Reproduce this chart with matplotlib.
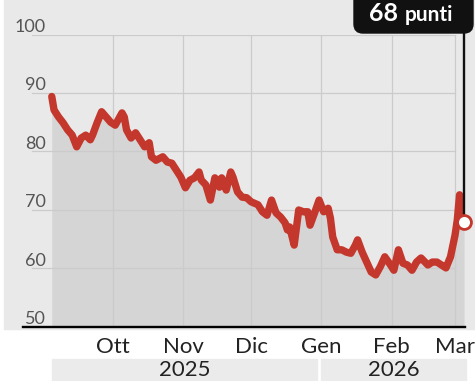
import matplotlib
matplotlib.use("Agg")
import matplotlib.pyplot as plt
import matplotlib.dates as mdates
import matplotlib.transforms as mtransforms
from matplotlib.patches import Rectangle, FancyBboxPatch
import pandas as pd

# valori
dates = [
    "2025-09-04", "2025-09-05", "2025-09-07", "2025-09-09", "2025-09-11", "2025-09-13",
    "2025-09-15", "2025-09-17", "2025-09-19", "2025-09-21", "2025-09-22", "2025-09-24",
    "2025-09-26", "2025-09-28", "2025-09-30", "2025-10-02", "2025-10-05", "2025-10-06",
    "2025-10-07", "2025-10-09", "2025-10-11", "2025-10-13", "2025-10-15", "2025-10-17",
    "2025-10-18", "2025-10-20", "2025-10-23", "2025-10-25", "2025-10-27", "2025-10-29",
    "2025-10-31", "2025-11-02", "2025-11-04", "2025-11-06", "2025-11-08", "2025-11-09",
    "2025-11-11", "2025-11-13", "2025-11-15", "2025-11-17", "2025-11-18", "2025-11-20",
    "2025-11-22", "2025-11-23", "2025-11-25", "2025-11-27", "2025-11-29", "2025-12-01",
    "2025-12-04", "2025-12-06", "2025-12-08", "2025-12-10", "2025-12-12", "2025-12-14",
    "2025-12-16", "2025-12-17", "2025-12-18", "2025-12-20", "2025-12-22", "2025-12-24",
    "2025-12-26", "2025-12-27", "2025-12-29", "2025-12-31", "2026-01-02", "2026-01-04",
    "2026-01-05", "2026-01-06", "2026-01-08", "2026-01-10", "2026-01-12", "2026-01-14",
    "2026-01-16", "2026-01-17", "2026-01-19", "2026-01-21", "2026-01-23", "2026-01-25",
    "2026-01-27", "2026-01-29", "2026-01-31", "2026-02-02", "2026-02-04", "2026-02-06",
    "2026-02-08", "2026-02-10", "2026-02-12", "2026-02-14", "2026-02-17", "2026-02-19",
    "2026-02-21", "2026-02-23", "2026-02-25", "2026-02-27", "2026-03-01", "2026-03-02",
    "2026-03-03", "2026-03-04", "2026-03-05",
]
values = [
    89.4, 87.1, 85.9, 84.9, 83.7, 82.8,
    80.8, 82.3, 82.8, 82.0, 82.8, 84.9,
    86.8, 85.9, 85.0, 84.5, 86.6, 85.9,
    83.7, 82.3, 83.2, 82.0, 80.8, 81.5,
    79.1, 78.5, 79.1, 78.2, 78.0, 76.8,
    75.6, 73.8, 75.1, 75.5, 76.5, 75.1,
    74.3, 71.7, 75.5, 73.9, 75.5, 73.4,
    76.5, 75.6, 73.1, 72.2, 72.1, 71.4,
    70.9, 69.7, 69.1, 71.7, 69.5, 68.8,
    67.8, 66.6, 67.1, 64.0, 70.0, 69.7,
    69.7, 67.4, 69.5, 71.7, 69.7, 70.3,
    68.6, 65.4, 63.2, 63.2, 62.8, 62.6,
    64.0, 64.9, 62.8, 61.1, 59.4, 58.9,
    60.3, 62.0, 60.9, 59.7, 63.2, 60.9,
    60.6, 59.7, 61.1, 61.8, 60.6, 61.1,
    61.1, 60.6, 60.1, 62.0, 65.7, 68.3,
    72.6, 69.5, 68.0,
]
yticks = [50, 60, 70, 80, 90, 100]
month_starts = ["2025-10-01", "2025-11-01", "2025-12-01", "2026-01-01", "2026-02-01", "2026-03-01"]
month_labels = ["Ott", "Nov", "Dic", "Gen", "Feb", "Mar"]
years = ["2025", "2026"]
year_spans = [("2025-09-04", "2025-12-30"), ("2026-01-01", "2026-03-06")]
unit = "punti"

plt.rcParams['font.family'] = ['Lato', 'DejaVu Sans']

W, H = 475, 381
fig = plt.figure(figsize=(W / 100, H / 100), dpi=100)
fig.patch.set_facecolor('white')


def fx(px):
    return px / W


def fy(py):
    return 1 - py / H


red = '#c4372c'

# pannello grigio chiaro
fig.patches.append(Rectangle((fx(4), fy(329)), fx(475) - fx(4), fy(0) - fy(329),
                             transform=fig.transFigure, color='#e9e9e9', zorder=-5))

ax = fig.add_axes([fx(23), fy(327), fx(465) - fx(23), fy(34.5) - fy(327)])
ax.set_facecolor('none')

x = pd.to_datetime(dates)
oct1 = mdates.date2num(pd.Timestamp("2025-10-01"))
ax.set_xlim(oct1 - 39.7, oct1 + 155.4)
ax.set_ylim(50, 100)

ax.fill_between(x, values, 50, color='#d5d5d5', lw=0, zorder=1)

for v in yticks:
    if v > 50:
        ax.axhline(v, xmin=0.02, xmax=0.977, color='#cbcbcb', lw=0.9, zorder=2)
    ax.text(0.052, v + 0.45, str(v), transform=ax.get_yaxis_transform(),
            ha='right', va='baseline', fontsize=13, color='#555555')

ms = pd.to_datetime(month_starts)
for m in ms:
    ax.axvline(m, color='#cbcbcb', lw=0.9, zorder=2)

ax.plot(x, values, color=red, lw=5.3, solid_joinstyle='round',
        solid_capstyle='round', zorder=4)

# linea verso il riquadro e marker finale
ax.plot([x[-1], x[-1]], [values[-1], 100.5], color='#111111', lw=1.7,
        clip_on=False, zorder=5)
ax.plot(x[-1], values[-1], 'o', ms=10, mfc='white', mec=red, mew=2,
        clip_on=False, zorder=6)

for s in ['top', 'right', 'left']:
    ax.spines[s].set_visible(False)
ax.spines['bottom'].set_color('black')
ax.spines['bottom'].set_linewidth(1.7)
ax.set_xticks([])
ax.set_yticks([])

# etichette mesi e anni
tr = mtransforms.blended_transform_factory(ax.transData, fig.transFigure)
for m, lab in zip(ms, month_labels):
    ax.text(m, fy(347), lab, transform=tr, ha='center', va='center',
            fontsize=16, color='#222222', clip_on=False)

for yr, (a, b) in zip(years, year_spans):
    a = mdates.date2num(pd.Timestamp(a))
    b = mdates.date2num(pd.Timestamp(b))
    ax.add_patch(Rectangle((a, fy(381)), b - a, fy(359) - fy(381), transform=tr,
                           color='#ebebeb', clip_on=False, zorder=0))
    ax.text((a + b) / 2, fy(370), yr, transform=tr, ha='center', va='center',
            fontsize=16, color='#222222', clip_on=False)

# riquadro valore
box = FancyBboxPatch((3.54, 3.48), 1.19, 0.6, boxstyle='round,pad=0,rounding_size=0.09',
                     transform=fig.dpi_scale_trans, color='#111111', zorder=10)
fig.patches.append(box)
fig.text(fx(369), fy(21), f"{values[-1]:.0f}", ha='left', va='baseline',
         fontsize=18, fontweight='bold', color='white', zorder=11)
fig.text(fx(405), fy(21), unit, ha='left', va='baseline',
         fontsize=15, fontweight='bold', color='white', zorder=11)

fig.savefig("out.png", dpi=100)
